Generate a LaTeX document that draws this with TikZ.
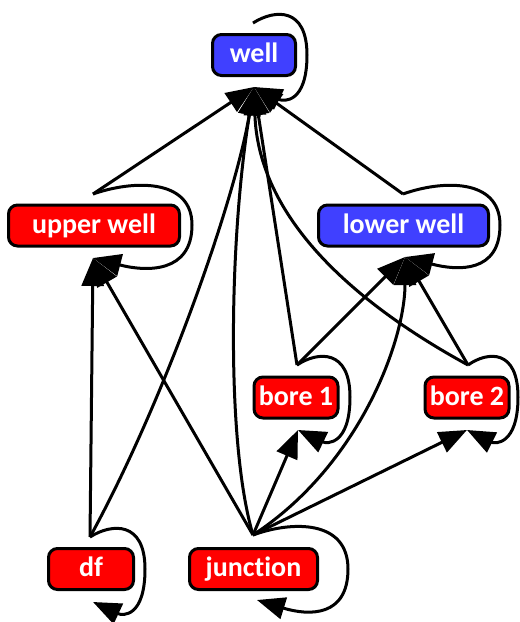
\documentclass[tikz,border=0pt]{standalone}
\usepackage{fontspec}
\setmainfont{Carlito}[Ligatures=NoCommon]
\usetikzlibrary{arrows.meta}
\definecolor{boxred}{RGB}{255,0,0}
\definecolor{boxblue}{RGB}{64,64,255}
\begin{document}
\begin{tikzpicture}[x=1pt,y=-1pt,
  state/.style={draw=black, line width=3pt, rounded corners=9pt, text=white,
    font=\fontsize{28}{30}\selectfont\bfseries, minimum height=41pt,
    inner sep=0pt, text height=20pt, text depth=4.6pt},
  redstate/.style={state, fill=boxred},
  bluestate/.style={state, fill=boxblue},
  edge/.style={line width=3pt, -{Triangle[length=28pt,width=22pt]}},
]
\useasboundingbox (0,0) rectangle (520,622);

% states
\node[bluestate, minimum width=83pt]  (well)  at (254,55)    {well};
\node[redstate,  minimum width=171pt] (upper) at (94,225.5)  {upper well};
\node[bluestate, minimum width=170pt] (lower) at (403.5,225.5) {lower well};
\node[redstate,  minimum width=84pt]  (bore1) at (296,397.5) {bore 1};
\node[redstate,  minimum width=84pt]  (bore2) at (467,397.5) {bore 2};
\node[redstate,  minimum width=85pt]  (df)    at (91,569)    {df};
\node[redstate,  minimum width=128pt] (junc)  at (253.5,569) {junction};

% ports: outgoing above each state, incoming below
\coordinate (wo)  at (253,23);   \coordinate (wi)  at (254,87);
\coordinate (uo)  at (93,194);   \coordinate (ui)  at (93,258);
\coordinate (lo)  at (403,194);  \coordinate (li)  at (405,257);
\coordinate (b1o) at (297,365);  \coordinate (b1i) at (298,430);
\coordinate (b2o) at (468,365);  \coordinate (b2i) at (467,430);
\coordinate (dfo) at (90,537);   \coordinate (dfi) at (93,602);
\coordinate (jo)  at (253,535);  \coordinate (ji)  at (257,600);

% transitions into well
\draw[edge] (uo) -- (wi);
\draw[edge] (lo) -- (wi);
\draw[edge] (b1o) -- (wi);
\draw[edge] (b2o) .. controls (340,295) and (258,210) .. (wi);
\draw[edge] (dfo) .. controls (165,400) and (235,200) .. (wi);
\draw[edge] (jo) .. controls (225,440) and (230,232) .. (wi);

% transitions into lower well
\draw[edge] (b1o) -- (li);
\draw[edge] (b2o) -- (li);
\draw[edge] (jo) .. controls (360,465) and (405,340) .. (li);

% transitions into upper well
\draw[edge] (dfo) -- (ui);
\draw[edge] (jo) -- (ui);

% transitions into the bores
\draw[edge] (jo) -- (b1i);
\draw[edge] (jo) -- (b2i);

% self loops
\draw[edge] (wo) .. controls (275,9) and (307,7) .. (307,55)
                 .. controls (307,103) and (284,102) .. (wi);
\draw[edge] (uo) .. controls (133,180) and (192,178) .. (192,225)
                 .. controls (192,273) and (147,272) .. (ui);
\draw[edge] (lo) .. controls (442,180) and (500,178) .. (500,225)
                 .. controls (500,273) and (458,271) .. (li);
\draw[edge] (b1o) .. controls (318,351) and (350,349) .. (350,397)
                  .. controls (350,445) and (327,444) .. (b1i);
\draw[edge] (b2o) .. controls (488,351) and (518,349) .. (518,397)
                  .. controls (518,445) and (495,444) .. (b2i);
\draw[edge] (dfo) .. controls (112,523) and (145,521) .. (145,569)
                  .. controls (145,617) and (123,616) .. (dfi);
\draw[edge] (jo) .. controls (291,521) and (348,519) .. (348,569)
                 .. controls (348,617) and (309,616) .. (ji);
\end{tikzpicture}
\end{document}
